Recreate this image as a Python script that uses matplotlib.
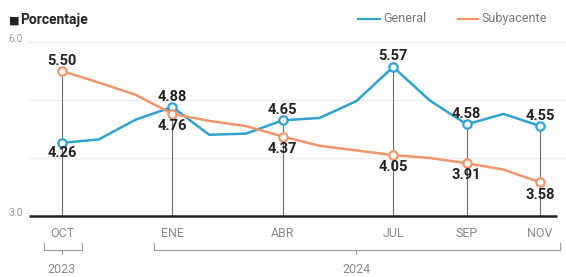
import matplotlib
matplotlib.use("Agg")
import matplotlib.pyplot as plt

# ── Data ──────────────────────────────────────────────────────────────────
months = ["OCT", "NOV", "DIC", "ENE", "FEB", "MAR", "ABR",
          "MAY", "JUN", "JUL", "AGO", "SEP", "OCT", "NOV"]
general = [4.26, 4.32, 4.66, 4.88, 4.40, 4.42, 4.65,
           4.69, 4.98, 5.57, 4.99, 4.58, 4.76, 4.55]
subyacente = [5.50, 5.30, 5.09, 4.76, 4.64, 4.55, 4.37,
              4.21, 4.13, 4.05, 4.00, 3.91, 3.80, 3.58]
labeled = [0, 3, 6, 9, 11, 13]          # months with markers / labels
gen_below = [0]                          # general labels drawn below the point
sub_above = [0]                          # subyacente labels drawn above
years = [("2023", 0, 0), ("2024", 3, 13)]
yticks = [3.0, 6.0]
grid_vals = [4.0, 5.0, 6.0]

# ── Style ─────────────────────────────────────────────────────────────────
BLUE = "#2fa2d2"
ORANGE = "#f2956a"
DARK = "#222222"
GRAY = "#8a8a8a"
plt.rcParams["font.family"] = ["Roboto", "DejaVu Sans"]

fig = plt.figure(figsize=(5.66, 2.77), dpi=100)
ax = fig.add_axes([0, 0, 1, 1])
ax.set_xlim(-1.685, 13.70)
ax.set_ylim(1.948, 6.724)
ax.axis("off")

x = list(range(len(months)))

# grid + baseline
for g in grid_vals:
    ax.plot([-0.9, 13.7], [g, g], color="#f0f0f0", lw=1.0, zorder=1)
ax.plot([-0.9, 13.45], [3.0, 3.0], color="#222222", lw=1.8, zorder=4,
        solid_capstyle="butt")
for t in yticks:
    ax.text(-1.45, t + 0.05, f"{t:.1f}", color="#9a9a9a", fontsize=7.5,
            ha="left", va="center")

# vertical drop lines at labeled months
for i in labeled:
    top = max(general[i], subyacente[i])
    ax.plot([i, i], [3.0, top], color="#6f6f6f", lw=0.8, zorder=2)

# series
ax.plot(x, general, color=BLUE, lw=1.8, zorder=5)
ax.plot(x, subyacente, color=ORANGE, lw=1.8, zorder=5)
ax.plot([x[i] for i in labeled], [general[i] for i in labeled], "o",
        ms=6, mfc="white", mec=BLUE, mew=1.6, zorder=6)
ax.plot([x[i] for i in labeled], [subyacente[i] for i in labeled], "o",
        ms=6, mfc="white", mec=ORANGE, mew=1.6, zorder=6)

# value labels
for i in labeled:
    dy = -0.18 if i in gen_below else 0.18
    ax.text(i, general[i] + dy, f"{general[i]:.2f}", color=DARK,
            fontsize=10.5, fontweight="bold", ha="center", va="center", zorder=7)
    dy = 0.18 if i in sub_above else -0.21
    ax.text(i, subyacente[i] + dy, f"{subyacente[i]:.2f}", color=DARK,
            fontsize=10.5, fontweight="bold", ha="center", va="center", zorder=7)

# month labels
for i in labeled:
    ax.text(i, 2.70, months[i], color=GRAY, fontsize=9, ha="center",
            va="center")

# year brackets
for name, a, b in years:
    xa, xb = a - 0.5, b + 0.55
    yb, yt = 2.42, 2.53
    ax.plot([xa, xa, xb, xb], [yt, yb, yb, yt], color="#9a9a9a", lw=0.8)
    mid = (a + b) / 2
    ax.plot([mid, mid], [yb, yb - 0.08], color="#9a9a9a", lw=0.8)
    ax.text(mid, 2.07, name, color=GRAY, fontsize=9, ha="center",
            va="center")

# header: unit + legend
ax.text(-1.44, 6.37, "\u25A0", color=DARK, fontsize=8, ha="left", va="center")
ax.text(-1.13, 6.38, "Porcentaje", color=DARK, fontsize=10, fontweight="bold",
        ha="left", va="center")
ax.plot([8.04, 8.64], [6.40, 6.40], color=BLUE, lw=1.6)
ax.text(8.74, 6.40, "General", color="#777777", fontsize=9, ha="left",
        va="center")
ax.plot([10.76, 11.3], [6.40, 6.40], color=ORANGE, lw=1.6)
ax.text(11.4, 6.40, "Subyacente", color="#777777", fontsize=9, ha="left",
        va="center")

fig.savefig("out.png", dpi=100)
